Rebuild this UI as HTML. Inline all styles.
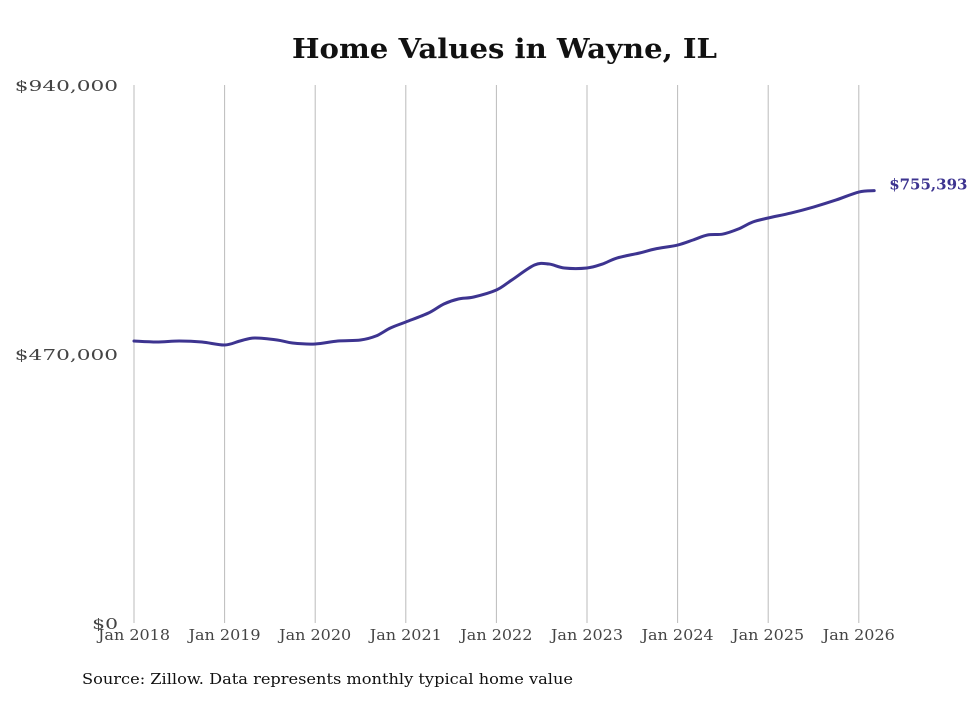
<!DOCTYPE html>
<html><head><meta charset="utf-8"><style>
body{margin:0;background:#fff;}
svg text{font-family:"DejaVu Serif","Liberation Serif",serif;}
</style></head><body>
<svg width="980" height="699" viewBox="0 0 980 699">
<text x="292" y="58" textLength="425" lengthAdjust="spacingAndGlyphs" font-size="27" font-weight="bold" fill="#111">Home Values in Wayne, IL</text>
<g id="grid"></g><g id="yticks"></g><g id="xticks"></g>
<path id="line" fill="none" stroke="#3d3490" stroke-width="3" stroke-linejoin="round" stroke-linecap="round"/>
<text id="endlabel" font-size="15" font-weight="bold" fill="#3d3490"></text>
<text x="82" y="684" textLength="491" lengthAdjust="spacingAndGlyphs" font-size="15" fill="#111">Source: Zillow. Data represents monthly typical home value</text>
</svg>
<script>
const dates=[2018.0,2018.25,2018.5,2018.75,2019.0,2019.17,2019.33,2019.58,2019.75,2020.0,2020.25,2020.5,2020.67,2020.83,2021.0,2021.25,2021.42,2021.58,2021.75,2022.0,2022.17,2022.42,2022.58,2022.75,2023.0,2023.17,2023.33,2023.58,2023.75,2024.0,2024.17,2024.33,2024.5,2024.67,2024.83,2025.0,2025.25,2025.5,2025.75,2026.0,2026.17];
const values=[492700,491000,492700,491000,485700,492700,498000,494500,489200,487500,492700,494500,501400,515400,525900,541600,557400,566100,569600,581800,599300,625500,627200,620300,620300,627200,637700,646500,653500,660400,669200,677900,679600,688400,700600,707600,716300,726800,739100,753000,755393];
const yTickValues=[0,470000,940000];
const yTickLabels=["$0","$470,000","$940,000"];
const xTickYears=[2018,2019,2020,2021,2022,2023,2024,2025,2026];
const xTickLabels=["Jan 2018","Jan 2019","Jan 2020","Jan 2021","Jan 2022","Jan 2023","Jan 2024","Jan 2025","Jan 2026"];
const X=d=>134+(d-2018)*90.6, Y=v=>623-v/940000*538;
const ns="http://www.w3.org/2000/svg";
function mk(t,a,p){const e=document.createElementNS(ns,t);for(const k in a)e.setAttribute(k,a[k]);p.appendChild(e);return e;}
const grid=document.getElementById('grid'),xt=document.getElementById('xticks'),yt=document.getElementById('yticks');
xTickYears.forEach((yr,i)=>{
 const l=mk('line',{x1:X(yr),x2:X(yr),y1:85,y2:623,stroke:'#bbb','stroke-width':1},grid);
 
 
 const t=mk('text',{x:X(yr),y:640,'text-anchor':'middle','font-size':15,fill:'#444',textLength:72,lengthAdjust:'spacingAndGlyphs'},xt);t.textContent=xTickLabels[i];
 
 
});
yTickValues.forEach((v,i)=>{
 const lab=yTickLabels[i];
 const t=mk('text',{x:118,y:Y(v)+6,'text-anchor':'end','font-size':15,fill:'#444',textLength:lab.length*12.9,lengthAdjust:'spacingAndGlyphs'},yt);t.textContent=lab;
 
 
});
const pts=dates.map((d,i)=>[X(d),Y(values[i])]);
let p='M'+pts[0][0]+','+pts[0][1];
for(let i=0;i<pts.length-1;i++){const p0=pts[Math.max(0,i-1)],p1=pts[i],p2=pts[i+1],p3=pts[Math.min(pts.length-1,i+2)];
 p+=' C'+(p1[0]+(p2[0]-p0[0])/6)+','+(p1[1]+(p2[1]-p0[1])/6)+' '+(p2[0]-(p3[0]-p1[0])/6)+','+(p2[1]-(p3[1]-p1[1])/6)+' '+p2[0]+','+p2[1];}
document.getElementById('line').setAttribute('d',p);
const last=pts[pts.length-1],el=document.getElementById('endlabel');
el.setAttribute('x',last[0]+15);el.setAttribute('y',last[1]-1);
el.textContent='$'+values[values.length-1].toLocaleString('en-US');
</script>
</body></html>
